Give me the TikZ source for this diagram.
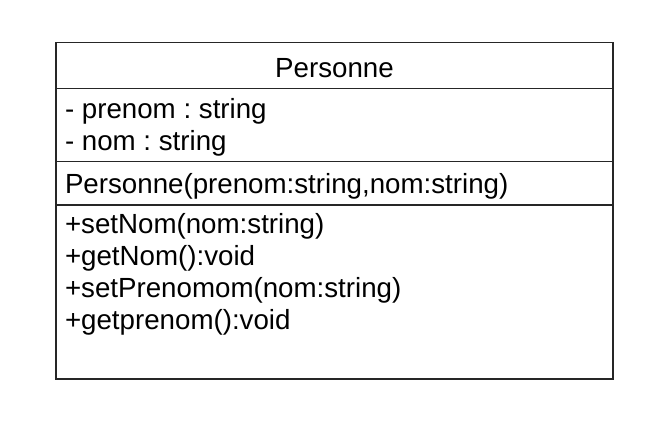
\documentclass[tikz,border=0pt]{standalone}
\usepackage{fontspec}
\setmainfont{Liberation Sans}
\frenchspacing
\begin{document}
\begin{tikzpicture}[x=1pt,y=-1pt,
  umltext/.style={inner sep=0pt,anchor=base west,font=\fontsize{27.7}{32}\selectfont},
  umltitle/.style={inner sep=0pt,anchor=base,font=\fontsize{27.7}{32}\selectfont},
  umlline/.style={line width=1.5pt,draw=black!85}]
\useasboundingbox (0,0) rectangle (668,427);
\coordinate (tl) at (56,42.5);
\coordinate (br) at (613,379);
\draw[umlline] (tl) rectangle (br);
\coordinate (s1a) at (56,88.5); \coordinate (s1b) at (613,88.5);
\coordinate (s2a) at (56,161.5); \coordinate (s2b) at (613,161.5);
\coordinate (s3a) at (56,205); \coordinate (s3b) at (613,205);
\draw[umlline] (s1a) -- (s1b);
\draw[umlline] (s2a) -- (s2b);
\draw[umlline] (s3a) -- (s3b);
\node[umltitle] (title) at (334.5,77.5) {Personne};
\node[umltext] (a1) at (64.8,119) {- prenom : string};
\node[umltext] (a2) at (64.8,151) {- nom : string};
\node[umltext] (c1) at (64.8,193.5) {Personne(prenom:string,nom:string)};
\node[umltext] (m1) at (64.8,233.5) {+setNom(nom:string)};
\node[umltext] (m2) at (64.8,265.5) {+getNom():void};
\node[umltext] (m3) at (64.8,297.5) {+setPrenomom(nom:string)};
\node[umltext] (m4) at (64.8,329.5) {+getprenom():void};
\end{tikzpicture}
\end{document}
